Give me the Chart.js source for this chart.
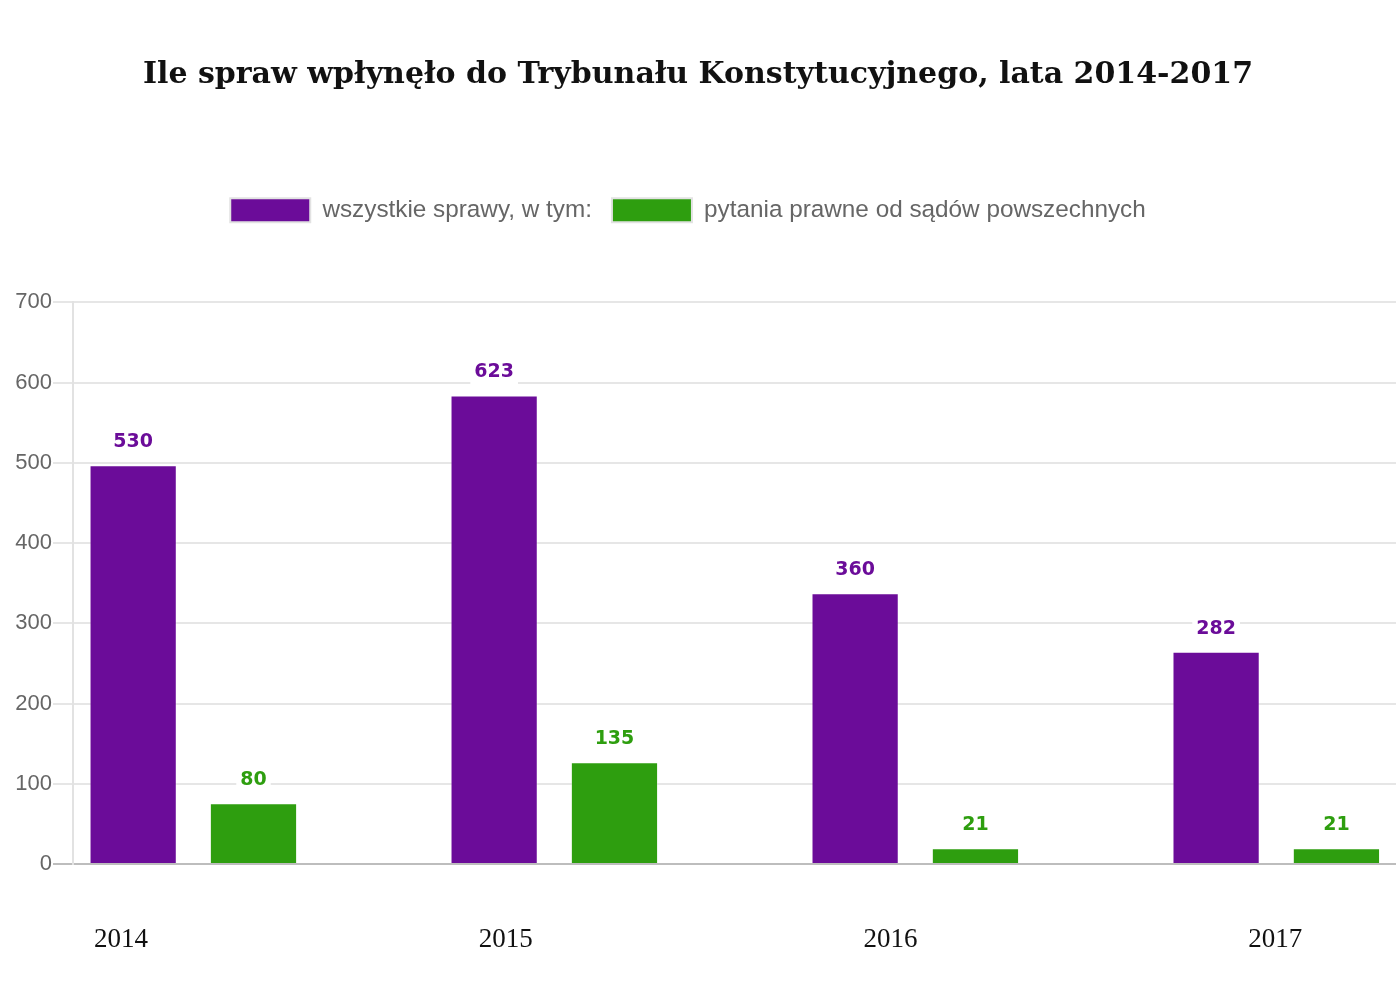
<!DOCTYPE html>
<html>
<head>
<meta charset="utf-8">
<script src="https://cdn.jsdelivr.net/npm/chart.js@4.4.1/dist/chart.umd.min.js"></script>
<style>
  html, body { margin: 0; padding: 0; background: #fff; overflow: hidden; }
  #wrap { width: 1396px; height: 1008px; }
</style>
</head>
<body>
<div id="wrap"><canvas id="chart"></canvas></div>
<script>
const years = ['2014', '2015', '2016', '2017'];
// bar heights as they are drawn in the picture
const allCases = [497, 584, 337.5, 264.4];
const courtQuestions = [75.6, 126.7, 19.5, 19.5];
// numbers printed above the bars
const allCasesLabels = [530, 623, 360, 282];
const courtQuestionsLabels = [80, 135, 21, 21];
const yTicks = [0, 100, 200, 300, 400, 500, 600, 700];

const purple = '#6b0c99';
const green = '#2e9e0f';

const barValueLabels = {
  id: 'barValueLabels',
  afterDatasetsDraw(chart) {
    const ctx = chart.ctx;
    ctx.save();
    ctx.font = 'bold 19px "DejaVu Sans"';
    ctx.textAlign = 'center';
    ctx.textBaseline = 'middle';
    chart.data.datasets.forEach((ds, di) => {
      if (!ds.valueLabels) return;
      chart.getDatasetMeta(di).data.forEach((bar, i) => {
        const txt = String(ds.valueLabels[i]);
        const w = ctx.measureText(txt).width + 8;
        const y = bar.y - 23;
        ctx.fillStyle = '#fff';
        ctx.fillRect(bar.x - w / 2, y - 12, w, 24);
        ctx.fillStyle = ds.backgroundColor;
        ctx.fillText(txt, bar.x, y);
      });
    });
    ctx.restore();
  }
};

// legend sits a little left of centre in the original
const legendNudge = {
  id: 'legendNudge',
  afterLayout(chart) {
    chart.legend.left -= 10;
    chart.legend.right -= 10;
  }
};

const toPoints = arr => arr.map((v, i) => ({ x: i, y: v }));

new Chart(document.getElementById('chart'), {
  type: 'bar',
  data: {
    datasets: [
      {
        label: 'wszystkie sprawy, w tym:',
        data: toPoints(allCases),
        valueLabels: allCasesLabels,
        backgroundColor: purple,
        borderColor: 'rgba(255,255,255,0.35)',
        borderWidth: 1,
        xAxisID: 'x', yAxisID: 'y'
      },
      {
        label: 'pytania prawne od sądów powszechnych',
        data: toPoints(courtQuestions),
        valueLabels: courtQuestionsLabels,
        backgroundColor: green,
        borderColor: 'rgba(255,255,255,0.35)',
        borderWidth: 1,
        xAxisID: 'x', yAxisID: 'y'
      },
      // empty third slot, keeps the gap after each pair
      { label: '', data: [], backgroundColor: 'rgba(0,0,0,0)', xAxisID: 'x', yAxisID: 'y' }
    ]
  },
  options: {
    responsive: true,
    maintainAspectRatio: false,
    animation: false,
    barPercentage: 0.725,
    categoryPercentage: 1,
    layout: { padding: { left: 0, right: 0, top: 0, bottom: 0 } },
    plugins: {
      title: {
        display: true,
        text: 'Ile spraw wpłynęło do Trybunału Konstytucyjnego, lata 2014-2017',
        font: { family: 'DejaVu Serif', size: 30, weight: 'bold' },
        color: '#111',
        padding: { top: 57, bottom: 85 }
      },
      legend: {
        display: true,
        position: 'top',
        labels: {
          boxWidth: 80,
          boxHeight: 24,
          padding: 20,
          color: '#666',
          font: { family: 'Liberation Sans', size: 24.3 },
          generateLabels: chart => chart.data.datasets.slice(0, 2).map((ds, i) => ({
            text: ds.label,
            fillStyle: ds.backgroundColor,
            strokeStyle: '#e2e2e2',
            lineWidth: 2,
            fontColor: '#666',
            hidden: false,
            datasetIndex: i
          }))
        }
      },
      subtitle: {
        display: true,
        text: '',
        weight: 500,
        font: { size: 10 },
        padding: { top: 58, bottom: 0 }
      },
      tooltip: { enabled: false }
    },
    scales: {
      x: {
        type: 'linear',
        display: false,
        offset: false,
        min: -0.5,
        max: 3.165,
        afterBuildTicks: axis => { axis.ticks = years.map((y, i) => ({ value: i })); }
      },
      yearAxis: {
        type: 'linear',
        position: 'bottom',
        offset: false,
        min: -0.1245,
        max: 3.3137,
        afterBuildTicks: axis => { axis.ticks = years.map((y, i) => ({ value: i })); },
        afterFit: axis => { axis.height = 144; },
        grid: { display: false, drawTicks: false },
        border: { display: false },
        ticks: {
          padding: 60,
          autoSkip: false,
          maxRotation: 0,
          color: '#111',
          font: { family: 'Liberation Serif', size: 27 },
          callback: v => years[v]
        }
      },
      y: {
        type: 'linear',
        position: 'left',
        min: 0,
        max: 700,
        afterBuildTicks: axis => { axis.ticks = yTicks.map(v => ({ value: v })); },
        afterFit: axis => { axis.width = 73; },
        grid: {
          color: c => (c.tick && c.tick.value === 0 ? '#bdbdbd' : '#e6e6e6'),
          lineWidth: 2,
          tickLength: 20
        },
        border: { color: '#e2e2e2', width: 2 },
        ticks: {
          padding: 1,
          color: '#666',
          font: { family: 'Liberation Sans', size: 22 }
        }
      }
    }
  },
  plugins: [barValueLabels, legendNudge]
});
</script>
</body>
</html>
